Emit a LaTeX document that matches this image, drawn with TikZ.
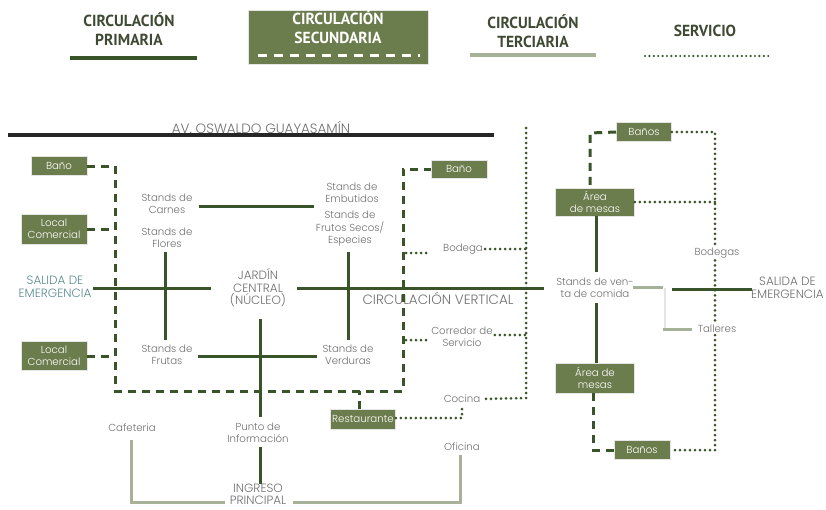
\documentclass[tikz,border=0pt]{standalone}
\usepackage{fontspec}
\setmainfont{Poppins}[UprightFont={* Light}]
\newfontfamily\legfont{PT Sans}[FakeStretch=0.97]
\definecolor{primc}{HTML}{3A5429}
\definecolor{boxc}{HTML}{6B7C4D}
\definecolor{tertc}{HTML}{A6B198}
\definecolor{txtc}{HTML}{6F6F6F}
\definecolor{legc}{HTML}{3F4A35}
\begin{document}
\begin{tikzpicture}[x=1pt,y=-1pt,
  lbl/.style={font=\fontsize{10.2}{12.5}\selectfont, text=txtc, align=center, inner sep=2pt},
  capl/.style={font=\fontsize{12}{12.5}\selectfont, text=txtc, align=center, inner sep=2pt},
  box/.style={fill=boxc, draw=white!80!gray, line width=0.6pt, text=white,
    font=\fontsize{10.2}{12.5}\selectfont, align=center, inner sep=0pt},
  prim/.style={draw=primc, line width=3pt},
  sec/.style={draw=primc, line width=3pt, dash pattern=on 8pt off 6pt},
  tert/.style={draw=tertc, line width=3pt},
  serv/.style={draw=primc, line width=3pt, line cap=round, dash pattern=on 0pt off 5pt},
  legend/.style={font=\legfont\bfseries\fontsize{16}{19}\selectfont, text=legc, align=center}
]
\useasboundingbox (0,0) rectangle (826,509);

% ---------- legend ----------
\node[legend] (lgP) at (129,29) {CIRCULACIÓN\\PRIMARIA};
\draw[prim, line width=3.5pt] (70,58) coordinate (lgPa) -- (197,58) coordinate (lgPb);
\node[fill=boxc, draw=white!80!gray, minimum width=180pt, minimum height=54pt] (lgSbox) at (338,37) {};
\node[legend, text=white] (lgS) at (338,27) {CIRCULACIÓN\\SECUNDARIA};
\draw[draw=white, line width=3pt, dash pattern=on 9pt off 7pt] (258,55) coordinate (lgSa) -- (420,55) coordinate (lgSb);
\node[legend] (lgT) at (533,31) {CIRCULACIÓN\\TERCIARIA};
\draw[tert, line width=3.5pt] (470,55) coordinate (lgTa) -- (596,55) coordinate (lgTb);
\node[legend] (lgV) at (705,31) {SERVICIO};
\draw[serv, line width=2.4pt, dash pattern=on 0pt off 4.4pt] (645,56) coordinate (lgVa) -- (772,56) coordinate (lgVb);

% ---------- avenue ----------
\node[font=\fontsize{13.5}{15}\selectfont, text=txtc] (av) at (261,127) {AV. OSWALDO GUAYASAMÍN};
\draw[black!85, line width=3.5pt] (8,135) coordinate (avA) -- (494,135) coordinate (avB);

% ---------- boxes ----------
\node[box, minimum width=56pt, minimum height=19pt] (bano1) at (59,166) {Baño};
\node[box, minimum width=66pt, minimum height=30pt] (loc1) at (54,229) {Local\\Comercial};
\node[box, minimum width=66pt, minimum height=29pt] (loc2) at (54,356) {Local\\Comercial};
\node[box, minimum width=56pt, minimum height=18pt] (bano2) at (459,169) {Baño};
\node[box, minimum width=65pt, minimum height=20pt] (rest) at (363,419) {Restaurante};
\node[box, minimum width=55pt, minimum height=19pt] (banos3) at (644,132) {Baños};
\node[box, minimum width=79pt, minimum height=28pt] (mesas1) at (595,202) {Área\\de mesas};
\node[box, minimum width=79pt, minimum height=30pt] (mesas2) at (595,378) {Área de\\mesas};
\node[box, minimum width=56pt, minimum height=19pt] (banos4) at (642,450) {Baños};

% ---------- labels ----------
\node[capl, text=txtc!80!cyan] (sal1) at (55,287) {SALIDA DE\\EMERGENCIA};
\node[lbl] (carnes) at (167,204) {Stands de\\Carnes};
\node[lbl] (flores) at (167,238) {Stands de\\Flores};
\node[lbl] (frutas) at (167,355) {Stands de\\Frutas};
\node[capl] (jardin) at (258,288) {JARDÍN\\CENTRAL\\(NÚCLEO)};
\node[lbl] (emb) at (352,193) {Stands de\\Embutidos};
\node[lbl] (frutos) at (350,229) {Stands de\\Frutos Secos/\\Especies};
\node[lbl] (verd) at (348,355) {Stands de\\Verduras};
\node[font=\fontsize{13.5}{15}\selectfont, text=txtc] (cv) at (438,298) {CIRCULACIÓN VERTICAL};
\node[lbl] (bodega) at (463,249) {Bodega};
\node[lbl] (corr) at (462,337) {Corredor de\\Servicio};
\node[lbl] (cocina) at (462,399) {Cocina};
\node[lbl] (cafe) at (132,428) {Cafeteria};
\node[lbl] (punto) at (258,433) {Punto de\\Información};
\node[capl, inner sep=0pt, font=\fontsize{12}{12}\selectfont] (ingreso) at (258,494) {INGRESO\\PRINCIPAL};
\node[lbl] (oficina) at (462,447) {Oficina};
\node[lbl] (venta) at (595,288) {Stands de ven-\\ta de comida};
\node[lbl] (bodegas) at (717,253) {Bodegas};
\node[lbl] (talleres) at (717,329) {Talleres};
\node[capl, anchor=east, inner sep=1pt] (sal2) at (825,288) {SALIDA DE\\EMERGENCIA};

% ---------- secondary circulation ----------
\coordinate (secNW) at (115,166);
\coordinate (secSW) at (115,391);
\coordinate (secSE) at (403,391);
\coordinate (secNE) at (403,169);
\draw[sec] (bano1.east) -- (secNW) -- (secSW) -- (secSE) -- (secNE) -- (bano2.west);
\draw[sec] (loc1.east) -- (loc1.east -| secNW);
\draw[sec] (loc2.east) -- (loc2.east -| secNW);
\draw[sec] ([xshift=-4pt]rest.north) -- ([xshift=-4pt]rest.north |- secSW);
\coordinate (secR1) at (590,133);
\draw[sec] (banos3.west) -- (secR1) -- (secR1 |- mesas1.north);
\coordinate (secR2) at (593,450);
\draw[sec] (secR2 |- mesas2.south) -- (secR2) -- (banos4.west);

% ---------- primary circulation ----------
\coordinate (jw) at (211,288);
\coordinate (je) at (297,288);
\coordinate (vw) at (544,288);
\draw[prim] (93,288) -- (jw);
\draw[prim] (je) -- (vw);
\draw[prim] (165,252) -- (165,340);
\draw[prim] (199,206) -- (314,206);
\draw[prim] (348,252) -- (348,340);
\draw[prim] (198,356) -- (317,356);
\draw[prim] (260,319) -- (260,417);
\draw[prim] (260,447) -- (ingreso.north -| 260,0);
\draw[prim] (mesas1.south -| 596,0) -- (596,272);
\draw[prim] (596,303) -- (mesas2.north -| 596,0);
\draw[prim] (672,289) -- (752,289);

% ---------- tertiary circulation ----------
\coordinate (tCafe) at (131,502);
\coordinate (tOfi) at (460,502);
\draw[tert] (131,440) -- (tCafe) -- (225,502);
\draw[tert] (293,502) -- (tOfi) -- (460,455);
\draw[tert] (633,287) -- (663,287);
\draw[black!10, line width=2.5pt] (665,288) -- (665,328);
\draw[tert] (663,329) -- (692,329);

% ---------- service ----------
\coordinate (svA) at (526,128);
\coordinate (svB) at (526,398);
\draw[serv] (svA) -- (svB) -- (cocina.east);
\draw[serv] (bodega.east) -- (bodega.east -| svA);
\draw[serv] (406,253) -- (427,253);
\draw[serv] (406,340) -- (428,340);
\draw[serv] (corr.east |- 0,335) -- (526,335);
\coordinate (svR) at (462,418);
\draw[serv] (rest.east |- svR) -- (svR) -- (cocina.south);
\coordinate (svTop) at (715,132);
\coordinate (svBot) at (715,450);
\draw[serv] (banos3.east) -- (svTop) -- (bodegas.north -| svTop);
\draw[serv] (bodegas.south -| svTop) -- (talleres.north -| svTop);
\draw[serv] (talleres.south -| svTop) -- (svBot) -- (banos4.east);
\draw[serv] (mesas1.east) -- (mesas1.east -| svTop);
\end{tikzpicture}
\end{document}
